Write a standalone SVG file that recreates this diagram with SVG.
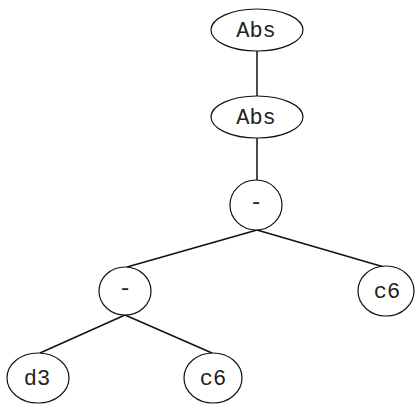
<svg xmlns="http://www.w3.org/2000/svg" width="415" height="404" viewBox="0 0 415 404">
<style>
.n ellipse{fill:#fff;stroke:#111;stroke-width:1.2}
.n text{font-family:"Liberation Mono","Courier New",monospace;font-size:22px;fill:#222;text-anchor:middle;dominant-baseline:central}
.e line{stroke:#111;stroke-width:1.5}
</style>
<rect width="415" height="404" fill="#fff"/>
<g class="e" id="edges">
<line x1="257" y1="51" x2="257" y2="97"/>
<line x1="257" y1="138" x2="257" y2="180"/>
<line x1="257" y1="230" x2="127" y2="267"/>
<line x1="257" y1="230" x2="384" y2="267"/>
<line x1="125" y1="315" x2="40" y2="353"/>
<line x1="125" y1="315" x2="212" y2="353"/>
</g>
<g class="n" id="abs1"><ellipse cx="257" cy="30" rx="46" ry="21"/><text x="256" y="31">Abs</text></g>
<g class="n" id="abs2"><ellipse cx="257" cy="117" rx="46" ry="21"/><text x="256" y="118">Abs</text></g>
<g class="n" id="minus1"><ellipse cx="256" cy="205" rx="26" ry="25"/><text x="256" y="203">-</text></g>
<g class="n" id="minus2"><ellipse cx="125" cy="291" rx="26" ry="24"/><text x="125" y="289">-</text></g>
<g class="n" id="c6a"><ellipse cx="386" cy="291" rx="28" ry="25"/><text x="387" y="292">c6</text></g>
<g class="n" id="d3"><ellipse cx="38" cy="378" rx="31" ry="25"/><text x="37" y="379">d3</text></g>
<g class="n" id="c6b"><ellipse cx="213" cy="378" rx="29" ry="25"/><text x="213" y="379">c6</text></g>
</svg>
